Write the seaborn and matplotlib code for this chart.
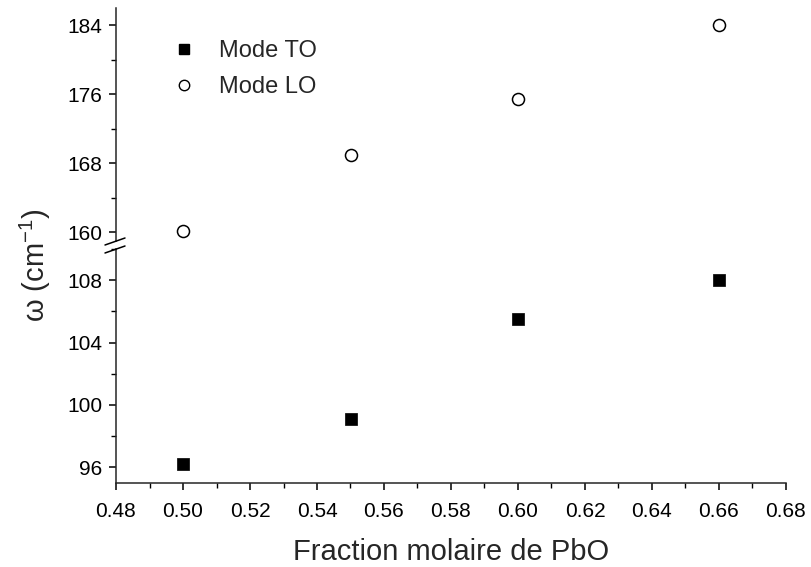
import matplotlib
matplotlib.use("Agg")
import matplotlib.pyplot as plt
import seaborn as sns
import pandas as pd
from matplotlib.lines import Line2D
from matplotlib.ticker import MultipleLocator

# Data
x_frac = [0.50, 0.55, 0.60, 0.66]
mode_to = [96.2, 99.1, 105.5, 108.0]
mode_lo = [160.2, 169.0, 175.4, 184.0]
x_ticks = [0.48, 0.50, 0.52, 0.54, 0.56, 0.58, 0.60, 0.62, 0.64, 0.66, 0.68]
top_yticks = [160, 168, 176, 184]
bottom_yticks = [96, 100, 104, 108]

sns.set_style("ticks")
plt.rcParams['font.family'] = ['Liberation Sans', 'DejaVu Sans']
plt.rcParams['mathtext.default'] = 'regular'

df_to = pd.DataFrame({"x": x_frac, "y": mode_to})
df_lo = pd.DataFrame({"x": x_frac, "y": mode_lo})

W, H = 811, 567
fig = plt.figure(figsize=(W / 100, H / 100), dpi=100)

def fx(px):
    return px / W

def fy(py):
    return 1 - py / H

left, right = 116, 786
ax_top = fig.add_axes([fx(left), fy(241), fx(right - left), (241 - 8) / H])
ax_bot = fig.add_axes([fx(left), fy(483), fx(right - left), (483 - 249) / H])

sns.scatterplot(data=df_lo, x="x", y="y", ax=ax_top, marker="o", s=75,
                facecolor="white", edgecolor="black", linewidth=1.1, zorder=3)
sns.scatterplot(data=df_to, x="x", y="y", ax=ax_bot, marker="s", s=80,
                color="black", edgecolor="black", linewidth=0.5, zorder=3)

for ax in (ax_top, ax_bot):
    ax.set_xlim(0.48, 0.68)
    ax.spines['top'].set_visible(False)
    ax.spines['right'].set_visible(False)
    ax.spines['left'].set_linewidth(1.1)
    ax.spines['bottom'].set_linewidth(1.1)
    ax.tick_params(axis='both', which='major', direction='out', length=5,
                   width=1.1, labelsize=15, colors='black', pad=5)
    ax.tick_params(axis='both', which='minor', direction='out', length=3.5,
                   width=1.0, colors='black')
    ax.set_xlabel("")
    ax.set_ylabel("")

ax_top.set_ylim(159, 186)
ax_top.set_yticks(top_yticks)
ax_top.yaxis.set_minor_locator(MultipleLocator(4))
ax_top.spines['bottom'].set_visible(False)
ax_top.tick_params(axis='x', which='both', bottom=False, labelbottom=False)

ax_bot.set_ylim(95, 110)
ax_bot.set_yticks(bottom_yticks)
ax_bot.yaxis.set_minor_locator(MultipleLocator(2))
ax_bot.set_xticks(x_ticks)
ax_bot.set_xticklabels([f"{v:.2f}" for v in x_ticks])
ax_bot.xaxis.set_minor_locator(MultipleLocator(0.01))
ax_bot.tick_params(axis='x', which='major', pad=9)
ax_bot.set_xlabel("Fraction molaire de PbO", fontsize=21, labelpad=12)

# Axis break marks
for (x0, y0, x1, y1) in [(105, 245, 125, 238), (105, 253, 125, 246)]:
    fig.add_artist(Line2D([fx(x0), fx(x1)], [fy(y0), fy(y1)],
                          transform=fig.transFigure, color="black", lw=1.1))

fig.text(fx(35), fy(265), r"ω (cm$^{-1}$)", rotation=90, fontsize=21,
         ha="center", va="center")

handles = [
    Line2D([], [], linestyle='none', marker='s', markersize=7,
           markerfacecolor='black', markeredgecolor='black'),
    Line2D([], [], linestyle='none', marker='o', markersize=7.5,
           markerfacecolor='white', markeredgecolor='black', markeredgewidth=1.0),
]
ax_top.legend(handles, ["Mode TO", "Mode LO"], loc='upper left',
              bbox_to_anchor=(fx(166), fy(40)), bbox_transform=fig.transFigure,
              frameon=False, fontsize=17, handletextpad=0.75, labelspacing=0.6,
              borderaxespad=0, borderpad=0, handlelength=1.5)

fig.savefig("out.png", dpi=100)
